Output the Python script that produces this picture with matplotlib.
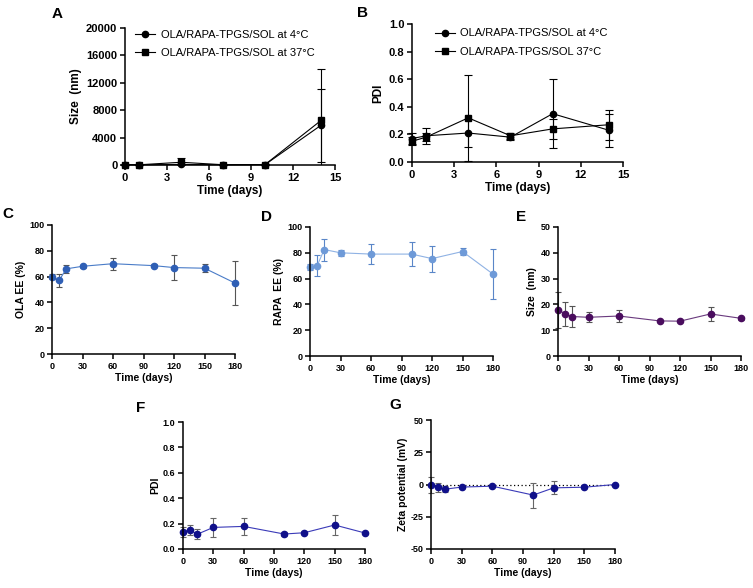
import matplotlib
matplotlib.use("Agg")
import matplotlib.pyplot as plt
from matplotlib.lines import Line2D
from matplotlib.transforms import Bbox, TransformedBbox
import numpy as np

plt.rcParams['font.family'] = ['Liberation Sans', 'DejaVu Sans']
plt.rcParams['axes.unicode_minus'] = False

W, H = 753, 588

# ---- Data ----
days_ab = [0, 1, 4, 7, 10, 14]
size_4c = [50, 20, 80, 30, 50, 5800]
size_4c_err = [30, 20, 100, 20, 30, 5300]
size_37c = [40, 30, 400, 40, 60, 6500]
size_37c_err = [30, 20, 600, 30, 40, 7500]

pdi_4c = [0.17, 0.19, 0.21, 0.18, 0.35, 0.23]
pdi_4c_err = [0.04, 0.06, 0.10, 0.02, 0.25, 0.12]
pdi_37c = [0.15, 0.18, 0.32, 0.19, 0.24, 0.27]
pdi_37c_err = [0.03, 0.03, 0.31, 0.02, 0.07, 0.11]

days_long = [0, 7, 14, 30, 60, 100, 120, 150, 180]
ola_ee = [60, 57, 66, 68, 70, 68.5, 67, 66.5, 55]
ola_ee_err = [2, 5, 3, 1, 4.5, 1, 10, 3, 17]
rapa_ee = [69, 70, 82.5, 80, 79, 79, 75.5, 81, 63.5]
rapa_ee_err = [2, 8, 8.5, 2.5, 8, 9.5, 10, 3, 19.5]
size_long = [18, 16.3, 15.3, 15, 15.5, 13.6, 13.5, 16.3, 14.6]
size_long_err = [7, 4.5, 4, 2, 2.2, 0.5, 0.5, 2.7, 0.5]
pdi_long = [0.136, 0.15, 0.116, 0.17, 0.178, 0.118, 0.128, 0.189, 0.126]
pdi_long_err = [0.04, 0.04, 0.04, 0.076, 0.065, 0.015, 0.01, 0.076, 0.01]
zeta_long = [-0.5, -2.3, -3.6, -2.0, -1.3, -8.2, -2.6, -2.1, 0.0]
zeta_long_err = [6, 3.5, 2.5, 0.8, 0.5, 9.7, 5, 0.8, 0.5]

label_4c_a = 'OLA/RAPA-TPGS/SOL at 4\u00b0C'
label_37c_a = 'OLA/RAPA-TPGS/SOL at 37\u00b0C'
label_4c_b = 'OLA/RAPA-TPGS/SOL at 4\u00b0C'
label_37c_b = 'OLA/RAPA-TPGS/SOL 37\u00b0C'

fig = plt.figure(figsize=(W / 100, H / 100), dpi=100)


def add_ax(l, t, r, b):
    return fig.add_axes([l / W, 1 - b / H, (r - l) / W, (b - t) / H])


def style(ax, tsize):
    for s in ['top', 'right']:
        ax.spines[s].set_visible(False)
    for s in ['left', 'bottom']:
        ax.spines[s].set_linewidth(1.1)
    ax.tick_params(direction='out', length=3.5, width=1.1, labelsize=tsize, pad=2)
    for lab in ax.get_xticklabels() + ax.get_yticklabels():
        lab.set_fontweight('bold')


def eb(ax, x, y, yerr, **kw):
    cont = ax.errorbar(x, y, yerr=yerr, **kw)
    cont[0].set_clip_on(False)
    # clip error bars only vertically (to the plotting range), not horizontally
    cb = TransformedBbox(Bbox([[-0.2, 0.0], [1.2, 1.2]]), ax.transAxes)
    for c in list(cont[1]) + list(cont[2]):
        c.set_clip_on(True)
        c.set_clip_box(cb)
    return cont


def panel_label(x, y, s):
    fig.text(x / W, 1 - y / H, s, fontsize=11, fontweight='bold', ha='center', va='center')


common_ab = dict(color='black', ms=4.5, lw=0.8, elinewidth=0.8, capsize=3, capthick=0.8)

# ---- A ----
axA = add_ax(125, 28, 335, 165)
eb(axA, days_ab, size_4c, size_4c_err, marker='o', **common_ab)
eb(axA, days_ab, size_37c, size_37c_err, marker='s', **common_ab)
axA.set_xlim(0, 15)
axA.set_ylim(0, 20000)
axA.set_xticks([0, 3, 6, 9, 12, 15])
axA.set_yticks([0, 4000, 8000, 12000, 16000, 20000])
axA.set_xlabel('Time (days)', fontsize=8.5, fontweight='bold', labelpad=2)
axA.set_ylabel('Size  (nm)', fontsize=8.5, fontweight='bold', labelpad=3)
style(axA, 8)
hA = [Line2D([], [], color='black', marker='o', ms=4.5, lw=0.8),
      Line2D([], [], color='black', marker='s', ms=4.5, lw=0.8)]
axA.legend(hA, [label_4c_a, label_37c_a], loc='upper left', bbox_to_anchor=(0.0, 1.06),
           frameon=False, fontsize=8, handlelength=1.8, handletextpad=0.5, labelspacing=0.75)

# ---- B ----
axB = add_ax(412, 24, 623, 162)
eb(axB, days_ab, pdi_4c, pdi_4c_err, marker='o', **common_ab)
eb(axB, days_ab, pdi_37c, pdi_37c_err, marker='s', **common_ab)
axB.set_xlim(0, 15)
axB.set_ylim(0, 1.0)
axB.set_xticks([0, 3, 6, 9, 12, 15])
axB.set_yticks([0, 0.2, 0.4, 0.6, 0.8, 1.0])
axB.set_yticklabels(['0.0', '0.2', '0.4', '0.6', '0.8', '1.0'])
axB.set_xlabel('Time (days)', fontsize=8.5, fontweight='bold', labelpad=2)
axB.set_ylabel('PDI', fontsize=8.5, fontweight='bold', labelpad=3)
style(axB, 8)
hB = [Line2D([], [], color='black', marker='o', ms=4.5, lw=0.8),
      Line2D([], [], color='black', marker='s', ms=4.5, lw=0.8)]
axB.legend(hB, [label_4c_b, label_37c_b], loc='upper left', bbox_to_anchor=(0.06, 1.04),
           frameon=False, fontsize=8, handlelength=1.8, handletextpad=0.5, labelspacing=0.75)


def long_panel(box, y, yerr, color, ecolor, ylim, yticks, ylabel, yticklabels=None, lcolor=None):
    ax = add_ax(*box)
    eb(ax, days_long, y, yerr, color=lcolor or color, marker='o', ms=4.5, lw=0.8,
       mfc=color, mec=color, ecolor=ecolor, elinewidth=0.8, capsize=2.5, capthick=0.8)
    ax.set_xlim(0, 180)
    ax.set_ylim(*ylim)
    ax.set_xticks([0, 30, 60, 90, 120, 150, 180])
    ax.set_yticks(yticks)
    if yticklabels is not None:
        ax.set_yticklabels(yticklabels)
    ax.set_xlabel('Time (days)', fontsize=7.5, fontweight='bold', labelpad=2)
    ax.set_ylabel(ylabel, fontsize=7.5, fontweight='bold', labelpad=2)
    style(ax, 6.5)
    return ax


# ---- C ----
long_panel((52, 225, 235, 354), ola_ee, ola_ee_err, '#2f5fb5', '#555555', (0, 100),
           [0, 20, 40, 60, 80, 100], 'OLA EE (%)', lcolor='#4a7cc8')
# ---- D ----
long_panel((310, 227, 493, 356), rapa_ee, rapa_ee_err, '#6e9ad8', '#5a86c8', (0, 100),
           [0, 20, 40, 60, 80, 100], 'RAPA  EE (%)', lcolor='#8fb2e4')
# ---- E ----
long_panel((558, 227, 741, 356), size_long, size_long_err, '#4a0d5e', '#555555', (0, 50),
           [0, 10, 20, 30, 40, 50], 'Size  (nm)', lcolor='#6a3a7e')
# ---- F ----
long_panel((183, 422, 365, 549), pdi_long, pdi_long_err, '#10108a', '#666666', (0, 1.0),
           [0, 0.2, 0.4, 0.6, 0.8, 1.0], 'PDI', ['0.0', '0.2', '0.4', '0.6', '0.8', '1.0'],
           lcolor='#3a3ab8')
# ---- G ----
axG = long_panel((431, 420, 615, 549), zeta_long, zeta_long_err, '#10108a', '#666666', (-50, 50),
                 [-50, -25, 0, 25, 50], 'Zeta potential (mV)', lcolor='#3a3ab8')
axG.axhline(0, color='black', lw=0.9, ls=(0, (1, 2)), zorder=0)

panel_label(57, 14, 'A')
panel_label(363, 13, 'B')
panel_label(8, 214, 'C')
panel_label(266, 217, 'D')
panel_label(521, 217, 'E')
panel_label(141, 408, 'F')
panel_label(395, 405, 'G')

fig.savefig('out.png', dpi=100)
